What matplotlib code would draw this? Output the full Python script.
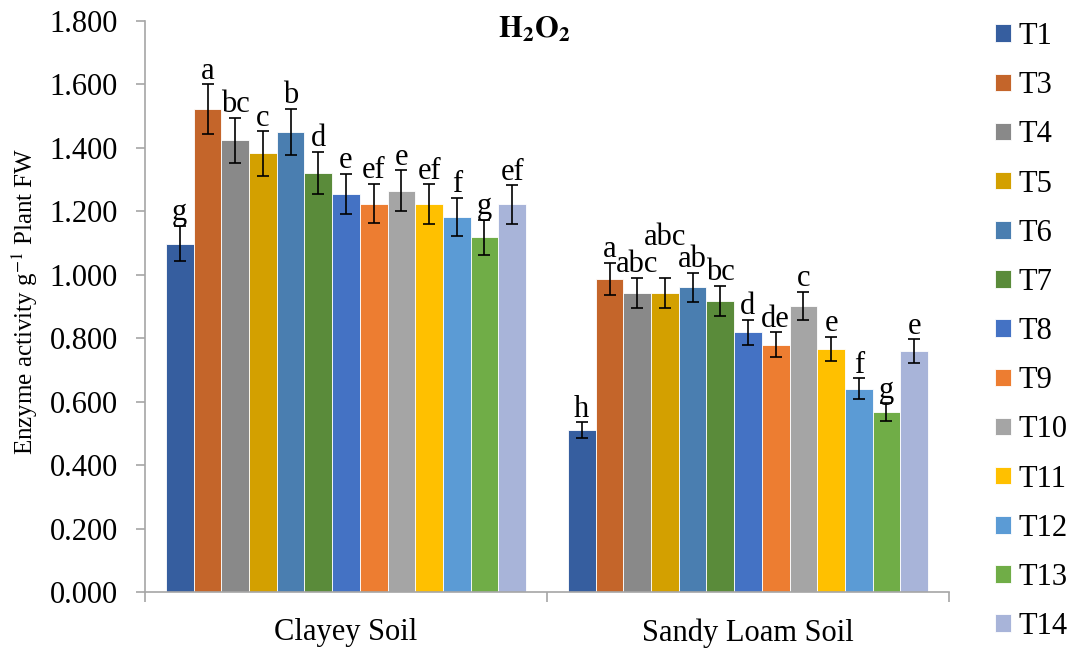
import numpy as np
import matplotlib.pyplot as plt

plt.rcParams['font.family'] = ['Liberation Serif', 'DejaVu Serif']
plt.rcParams['mathtext.fontset'] = 'stix'

# Данные: H2O2, две почвы, 13 вариантов
soils = ['Clayey Soil', 'Sandy Loam Soil']
treatments = ['T1', 'T3', 'T4', 'T5', 'T6', 'T7', 'T8', 'T9', 'T10', 'T11', 'T12', 'T13', 'T14']

clayey = [1.098, 1.521, 1.424, 1.382, 1.450, 1.320, 1.254, 1.224, 1.264, 1.222, 1.182, 1.117, 1.221]
clayey_err = [0.055, 0.078, 0.071, 0.070, 0.072, 0.067, 0.063, 0.062, 0.065, 0.062, 0.060, 0.055, 0.061]
clayey_letters = ['g', 'a', 'bc', 'c', 'b', 'd', 'e', 'ef', 'e', 'ef', 'f', 'g', 'ef']

sandy = [0.510, 0.987, 0.943, 0.941, 0.960, 0.917, 0.818, 0.779, 0.902, 0.766, 0.640, 0.567, 0.758]
sandy_err = [0.025, 0.050, 0.047, 0.047, 0.046, 0.047, 0.040, 0.039, 0.044, 0.039, 0.033, 0.027, 0.038]
sandy_letters = ['h', 'a', 'abc', 'abc', 'ab', 'bc', 'd', 'de', 'c', 'e', 'f', 'g', 'e']

colors = ['#365E9F', '#C4652A', '#898989', '#D3A000', '#4A7EB0', '#5A8B3A', '#4472C4',
          '#ED7D31', '#A5A5A5', '#FFC000', '#5B9BD5', '#70AD47', '#A8B4D9']

values = [clayey, sandy]
errors = [clayey_err, sandy_err]
letters = [clayey_letters, sandy_letters]

fig = plt.figure(figsize=(10.76, 6.5), dpi=100)
ax = fig.add_axes([145 / 1076, 1 - 592 / 650, 804 / 1076, (592 - 20.7) / 650])

w = 0.0689
n = len(treatments)
for i, t in enumerate(treatments):
    x = np.arange(len(soils)) + 0.5 + (i - (n - 1) / 2) * w
    v = [values[0][i], values[1][i]]
    e = [errors[0][i], errors[1][i]]
    ax.bar(x, v, width=w, color=colors[i], edgecolor='white', linewidth=0.6, label=t)
    ax.errorbar(x, v, yerr=e, fmt='none', ecolor='black', elinewidth=1.2, capsize=4, capthick=1.2)
    for j in range(len(soils)):
        lift = 4
        # у T5 на супесчаной почве буквы подняты выше
        if j == 1 and t == 'T5':
            lift = 24
        ax.annotate(letters[j][i], (x[j], v[j] + e[j]), xytext=(0, lift),
                    textcoords='offset points', ha='center', va='baseline', fontsize=22)

ax.set_xlim(0, 2)
ax.set_ylim(0, 1.8)
ax.set_yticks(np.arange(0, 1.801, 0.2))
ax.set_yticklabels(['%.3f' % v for v in np.arange(0, 1.801, 0.2)])
ax.set_xticks([0.5, 1.5])
ax.set_xticklabels(soils)
ax.set_xticks([0, 1, 2], minor=True)

for s in ['top', 'right']:
    ax.spines[s].set_visible(False)
for s in ['left', 'bottom']:
    ax.spines[s].set_color('#A6A6A6')
    ax.spines[s].set_linewidth(1.2)

ax.tick_params(axis='y', labelsize=22, length=6.5, width=1.2, color='#A6A6A6', pad=13)
ax.tick_params(axis='x', which='major', labelsize=22, length=0, pad=19)
ax.tick_params(axis='x', which='minor', length=7, width=1.2, color='#A6A6A6')

ax.text((534 - 145) / 804, (592 - 30) / 571.3, r'$\mathbf{H_2O_2}$', transform=ax.transAxes,
        ha='center', va='center', fontsize=22)

fig.text(25 / 1076, 1 - 301 / 650, r'Enzyme activity g$^{-1}$ Plant FW', rotation=90,
         ha='center', va='center', fontsize=18)

fig.legend(loc='upper left', bbox_to_anchor=(995 / 1076, 1 - 22 / 650), frameon=False,
           fontsize=22, handlelength=0.52, handleheight=0.5, handletextpad=0.25,
           labelspacing=0.66, borderpad=0, borderaxespad=0)

fig.savefig('out.png', dpi=100)
